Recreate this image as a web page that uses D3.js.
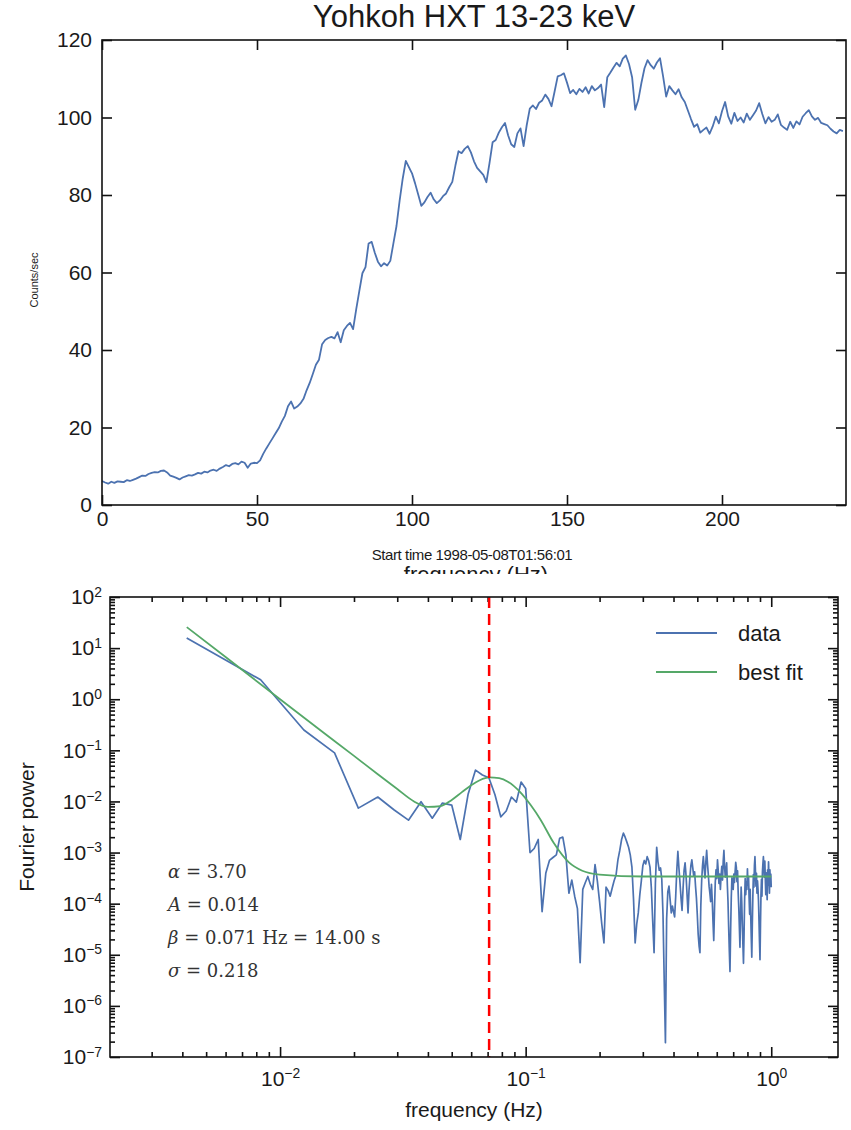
<!DOCTYPE html>
<html>
<head>
<meta charset="utf-8">
<script src="https://cdn.jsdelivr.net/npm/d3@7"></script>
<style>
  body { margin: 0; background: #fff; }
  svg text { fill: #1a1a1a; }
</style>
</head>
<body>
<script>
// ---- top panel: Yohkoh HXT light curve, one sample per second ----
const duration = 240
const counts = [
  6.2, 5.8, 5.5, 6.0, 5.7, 6.1, 6.0, 5.9, 6.4, 6.2,
  6.5, 6.8, 7.2, 7.6, 7.5, 8.0, 8.3, 8.5, 8.4, 8.8,
  8.9, 8.4, 7.6, 7.3, 7.0, 6.6, 7.1, 7.4, 7.7, 7.6,
  7.9, 8.3, 8.1, 8.6, 8.4, 8.9, 9.1, 8.8, 9.4, 9.8,
  10.3, 10.0, 10.6, 10.8, 10.5, 11.2, 10.9, 9.6, 10.7, 10.9,
  10.8, 11.5, 13.2, 14.6, 15.9, 17.2, 18.5, 19.8, 21.5, 23.0,
  25.5, 26.7, 24.9, 25.4, 26.2, 27.4, 29.6, 31.5, 33.8, 36.2,
  37.5, 41.5, 42.6, 43.1, 43.4, 43.0, 44.6, 42.0, 45.1, 46.2,
  47.0, 45.4, 50.5, 55.2, 59.8, 61.4, 67.5, 67.9, 65.1, 62.8,
  61.6, 62.4, 61.8, 63.0, 67.5, 72.0, 78.5, 84.2, 88.8, 87.2,
  85.6, 83.0, 80.1, 77.2, 78.1, 79.5, 80.6, 78.9, 77.9, 78.6,
  79.7, 80.4, 82.0, 83.4, 87.6, 91.3, 90.8, 91.9, 92.6, 91.0,
  88.7, 87.0, 86.1, 85.2, 83.3, 88.2, 93.6, 94.2, 96.1, 97.5,
  98.6, 95.4, 93.1, 92.4, 95.9, 97.2, 92.6, 98.0, 102.3, 103.1,
  102.2, 103.8, 104.4, 105.9, 104.8, 102.9, 106.7, 110.6, 110.9, 111.4,
  109.0, 106.3, 107.1, 106.0, 107.4, 106.6, 107.8, 106.2, 108.1, 107.0,
  107.6, 108.5, 102.7, 110.4, 111.6, 112.9, 114.1, 113.2, 115.2, 116.0,
  113.8, 110.4, 102.0, 104.5, 108.9, 112.7, 114.8, 113.5, 112.6, 114.2,
  115.3, 110.6, 105.4, 108.1, 107.0, 106.0, 107.3, 105.2, 104.0, 101.8,
  99.6, 97.6, 98.3, 96.1, 96.8, 97.4, 95.8, 97.7, 100.2, 98.5,
  101.6, 104.0, 100.3, 98.4, 101.2, 99.1, 100.0, 98.7, 101.0, 99.4,
  100.6, 101.8, 103.7, 100.9, 98.5, 100.1, 98.9, 99.4, 100.8, 98.1,
  97.4, 96.8, 98.9, 97.3, 99.0, 98.2, 100.2, 101.1, 101.9, 100.3,
  99.4, 99.9, 98.6, 98.3, 98.0, 97.1, 96.4, 95.9, 96.8, 96.5
]
const timeTicks = [0, 50, 100, 150, 200]
const countTicks = [0, 20, 40, 60, 80, 100, 120]

// ---- bottom panel: Fourier power at frequencies k / duration ----
const power = [
  15.8, 2.4, 0.25, 0.089, 0.0074, 0.0122, 0.0068, 0.0043, 0.0099, 0.0047,
  0.0093, 0.0085, 0.0018, 0.014, 0.041, 0.033, 0.029, 0.0135, 0.0050, 0.0065,
  0.0122, 0.0097, 0.024, 0.018, 0.0010, 0.0012, 0.0018, 7e-5, 4e-4, 7e-4,
  8e-4, 9e-4, 1.9e-3, 2.0e-3, 9e-4, 1.6e-4, 2.9e-4, 1.4e-4, 8e-5, 7e-6,
  1.9e-4, 2.6e-4, 3.4e-4, 2.4e-4, 1.9e-4, 5.8e-4, 2.8e-4, 1.1e-4, 4.0e-5, 1.7e-5,
  2.1e-4, 1.8e-4, 1.4e-4, 2.0e-4, 2.8e-4, 3.6e-4, 7.2e-4, 1.1e-3, 1.8e-3, 2.4e-3,
  2.0e-3, 1.6e-3, 1.27e-3, 9.0e-4, 5.2e-4, 1.2e-4, 1.7e-5, 4.0e-5, 6.6e-5, 1.5e-4,
  2.8e-4, 5.5e-4, 7.0e-4, 6.0e-4, 8.3e-4, 7.0e-4, 5.2e-4, 2.0e-4, 4.5e-5, 1.1e-5,
  2.5e-4, 1.27e-3, 6.5e-4, 4.5e-4, 5.0e-4, 3.0e-4, 6.0e-5, 3.0e-6, 1.9e-7, 5.0e-5,
  1.7e-4, 2.2e-4, 1.2e-4, 6.6e-5, 9.0e-5, 7.0e-5, 5.5e-5, 1.4e-4, 4.5e-4, 1.05e-3,
  5.0e-4, 2.6e-4, 1.3e-4, 7.4e-5, 2.0e-4, 4.5e-4, 6.3e-4, 3.5e-4, 1.5e-4, 6.6e-5,
  1.8e-4, 3.4e-4, 5.6e-4, 7.2e-4, 5.0e-4, 3.5e-4, 4.2e-4, 2.2e-4, 1.3e-4, 6.0e-5,
  2.5e-5, 1.5e-5, 1.1e-5, 9.0e-5, 2.8e-4, 5.5e-4, 8.3e-4, 4.8e-4, 3.2e-4, 6.5e-4,
  1.1e-3, 6.0e-4, 3.8e-4, 2.2e-4, 1.6e-4, 1.1e-4, 2.4e-4, 1.2e-4, 4.5e-5, 1.9e-5,
  8.0e-5, 2.6e-4, 4.6e-4, 3.1e-4, 7.2e-4, 4.4e-4, 2.5e-4, 3.8e-4, 1.9e-4, 3.6e-4,
  5.4e-4, 2.9e-4, 6.8e-4, 1.1e-3, 5.2e-4, 3.3e-4, 4.5e-4, 6.3e-4, 2.4e-4, 1.1e-4,
  3.5e-5, 1.2e-5, 4.7e-6, 3.0e-5, 1.3e-4, 3.2e-4, 2.0e-4, 1.9e-4, 3.8e-4, 2.6e-4,
  4.1e-4, 6.4e-4, 5.2e-4, 2.7e-4, 4.4e-4, 1.7e-4, 8.5e-5, 3.5e-5, 1.4e-5, 6.0e-5,
  2.1e-4, 1.1e-4, 4.0e-5, 1.6e-5, 6.8e-6, 2.5e-5, 1.2e-4, 3.1e-4, 1.5e-4, 2.7e-4,
  1.9e-4, 4.8e-4, 2.3e-4, 3.4e-4, 1.3e-4, 6.2e-5, 1.9e-4, 6.0e-5, 2.2e-5, 9.0e-6,
  4.0e-5, 1.4e-4, 3.7e-4, 2.1e-4, 5.6e-4, 8.3e-4, 4.3e-4, 2.2e-4, 3.9e-4, 1.6e-4,
  2.8e-4, 1.9e-4, 1.1e-4, 4.5e-5, 1.8e-5, 8.0e-6, 4.0e-5, 1.5e-4, 3.0e-4, 1.4e-4,
  4.2e-4, 6.1e-4, 8.3e-4, 5.0e-4, 3.3e-4, 6.8e-4, 3.1e-4, 1.5e-4, 4.0e-4, 2.8e-4,
  1.2e-4, 4.6e-4, 2.3e-4, 6.6e-4, 3.0e-4, 1.6e-4, 4.6e-4, 2.5e-4, 3.8e-4, 2.1e-4
]
const fitFreq = [0.00417, 0.006, 0.01, 0.015, 0.02, 0.025, 0.03, 0.035, 0.04, 0.045,
  0.05, 0.055, 0.06, 0.065, 0.071, 0.078, 0.085, 0.095, 0.105, 0.115,
  0.13, 0.15, 0.17, 0.2, 0.3, 0.5, 1.0]
const fitPower = [25.7, 6.7, 1.0, 0.224, 0.078, 0.034, 0.0175, 0.0101, 0.0078, 0.0081,
  0.0107, 0.0152, 0.0208, 0.026, 0.0295, 0.0285, 0.024, 0.0152, 0.0084, 0.0044,
  0.00155, 0.00064, 0.00044, 0.00037, 0.00034, 0.00034, 0.00034]
const peakFreq = 0.071
const freqDomain = [0.00203, 1.87]
const powerDomain = [1e-7, 1e2]
const legendLabels = ['data', 'best fit']
const fitLines = [
  [['α', true], [' = 3.70', false]],
  [['A', true], [' = 0.014', false]],
  [['β', true], [' = 0.071 Hz = 14.00 s', false]],
  [['σ', true], [' = 0.218', false]]
]

const blue = '#4c72b0'
const green = '#55a868'
const sans = "'Liberation Sans', Arial, sans-serif"
const serif = "'DejaVu Serif', 'Liberation Serif', serif"

const svg = d3.select('body').append('svg')
  .attr('width', 851)
  .attr('height', 1130)
  .style('font-family', sans)

// ---------- top panel ----------
const p1 = {left: 102, top: 40, right: 846, bottom: 505}
const w1 = p1.right - p1.left
const h1 = p1.bottom - p1.top

svg.append('text')
  .attr('x', 474).attr('y', 27)
  .attr('text-anchor', 'middle')
  .attr('font-size', 31)
  .text('Yohkoh HXT 13-23 keV')

const g1 = svg.append('g').attr('transform', `translate(${p1.left},${p1.top})`)

const xTime = d3.scaleLinear().domain([0, duration]).range([0, w1])
const yCount = d3.scaleLinear().domain([0, 120]).range([h1, 0])

function styleAxis(g, size) {
  g.select('.domain').remove()
  g.selectAll('.tick line').attr('stroke', '#111').attr('stroke-width', 1.6)
  g.attr('font-size', size).attr('font-family', null)
  g.selectAll('.tick text').attr('fill', '#1a1a1a')
}

g1.append('g').attr('transform', `translate(0,${h1})`)
  .call(d3.axisBottom(xTime).tickValues(timeTicks).tickSize(-10).tickPadding(6))
  .call(g => styleAxis(g, 21))
g1.append('g')
  .call(d3.axisTop(xTime).tickValues(timeTicks).tickSize(-10).tickFormat(''))
  .call(g => styleAxis(g, 21))
g1.append('g')
  .call(d3.axisLeft(yCount).tickValues(countTicks).tickSize(-10).tickPadding(10))
  .call(g => styleAxis(g, 21))
g1.append('g').attr('transform', `translate(${w1},0)`)
  .call(d3.axisRight(yCount).tickValues(countTicks).tickSize(-10).tickFormat(''))
  .call(g => styleAxis(g, 21))

g1.append('path')
  .datum(counts)
  .attr('fill', 'none')
  .attr('stroke', blue)
  .attr('stroke-width', 1.8)
  .attr('stroke-linejoin', 'round')
  .attr('d', d3.line().x((d, i) => xTime(i)).y(d => yCount(d)))

g1.append('rect')
  .attr('width', w1).attr('height', h1)
  .attr('fill', 'none').attr('stroke', '#111').attr('stroke-width', 1.6)

svg.append('text')
  .attr('transform', 'translate(38,280) rotate(-90)')
  .attr('text-anchor', 'middle')
  .attr('font-size', 11)
  .text('Counts/sec')

// leftover x label of the lower panel, mostly hidden under it
svg.append('clipPath').attr('id', 'ghost')
  .append('rect').attr('x', 0).attr('y', 0).attr('width', 851).attr('height', 574)
svg.append('text')
  .attr('clip-path', 'url(#ghost)')
  .attr('x', 476).attr('y', 582)
  .attr('text-anchor', 'middle')
  .attr('font-size', 22)
  .attr('fill', '#333')
  .text('frequency (Hz)')

svg.append('text')
  .attr('x', 472).attr('y', 560)
  .attr('text-anchor', 'middle')
  .attr('font-size', 15)
  .attr('letter-spacing', -0.4)
  .text('Start time 1998-05-08T01:56:01')

// ---------- bottom panel ----------
const p2 = {left: 110, top: 597, right: 838, bottom: 1057}
const w2 = p2.right - p2.left
const h2 = p2.bottom - p2.top

const g2 = svg.append('g').attr('transform', `translate(${p2.left},${p2.top})`)

const xFreq = d3.scaleLog().domain(freqDomain).range([0, w2])
const yPow = d3.scaleLog().domain(powerDomain).range([h2, 0])

const isMajor = v => Math.abs(Math.log10(v) - Math.round(Math.log10(v))) < 1e-6
const xMajor = xFreq.ticks().filter(isMajor)
const xMinor = xFreq.ticks().filter(v => !isMajor(v))
const yMajor = yPow.ticks().filter(isMajor)
const yMinor = yPow.ticks().filter(v => !isMajor(v))

function powerLabels(g) {
  g.selectAll('.tick text').each(function(d) {
    const t = d3.select(this).text(null)
    const e = Math.round(Math.log10(d))
    t.append('tspan').text('10')
    t.append('tspan').attr('dy', '-0.55em').attr('font-size', '0.66em')
      .text(e < 0 ? '\u2212' + (-e) : e)
  })
}

g2.append('g').attr('transform', `translate(0,${h2})`)
  .call(d3.axisBottom(xFreq).tickValues(xMajor).tickSize(-10).tickPadding(14))
  .call(g => styleAxis(g, 21)).call(powerLabels)
g2.append('g').attr('transform', `translate(0,${h2})`)
  .call(d3.axisBottom(xFreq).tickValues(xMinor).tickSize(-5).tickFormat(''))
  .call(g => styleAxis(g, 21))
g2.append('g')
  .call(d3.axisTop(xFreq).tickValues(xMajor).tickSize(-10).tickFormat(''))
  .call(g => styleAxis(g, 21))
g2.append('g')
  .call(d3.axisTop(xFreq).tickValues(xMinor).tickSize(-5).tickFormat(''))
  .call(g => styleAxis(g, 21))
g2.append('g')
  .call(d3.axisLeft(yPow).tickValues(yMajor).tickSize(-10).tickPadding(8))
  .call(g => styleAxis(g, 21)).call(powerLabels)
g2.append('g')
  .call(d3.axisLeft(yPow).tickValues(yMinor).tickSize(-5).tickFormat(''))
  .call(g => styleAxis(g, 21))
g2.append('g').attr('transform', `translate(${w2},0)`)
  .call(d3.axisRight(yPow).tickValues(yMajor).tickSize(-10).tickFormat(''))
  .call(g => styleAxis(g, 21))
g2.append('g').attr('transform', `translate(${w2},0)`)
  .call(d3.axisRight(yPow).tickValues(yMinor).tickSize(-5).tickFormat(''))
  .call(g => styleAxis(g, 21))

g2.append('clipPath').attr('id', 'plot2')
  .append('rect').attr('width', w2).attr('height', h2)

const plot2 = g2.append('g').attr('clip-path', 'url(#plot2)')

plot2.append('path')
  .datum(power)
  .attr('fill', 'none')
  .attr('stroke', blue)
  .attr('stroke-width', 1.7)
  .attr('stroke-linejoin', 'round')
  .attr('d', d3.line().x((d, i) => xFreq((i + 1) / duration)).y(d => yPow(d)))

plot2.append('path')
  .datum(fitFreq.map((f, i) => [f, fitPower[i]]))
  .attr('fill', 'none')
  .attr('stroke', green)
  .attr('stroke-width', 1.8)
  .attr('d', d3.line().x(d => xFreq(d[0])).y(d => yPow(d[1])).curve(d3.curveMonotoneX))

plot2.append('line')
  .attr('x1', xFreq(peakFreq)).attr('x2', xFreq(peakFreq))
  .attr('y1', 0).attr('y2', h2)
  .attr('stroke', '#ff0000')
  .attr('stroke-width', 2.5)
  .attr('stroke-dasharray', '11,6')

g2.append('rect')
  .attr('width', w2).attr('height', h2)
  .attr('fill', 'none').attr('stroke', '#111').attr('stroke-width', 1.6)

// legend
const legend = g2.append('g').attr('transform', `translate(${w2 - 182},36)`)
legendLabels.forEach((label, i) => {
  legend.append('line')
    .attr('x1', 0).attr('x2', 61)
    .attr('y1', i * 39).attr('y2', i * 39)
    .attr('stroke', i === 0 ? blue : green)
    .attr('stroke-width', 1.8)
  legend.append('text')
    .attr('x', 82).attr('y', i * 39 + 8)
    .attr('font-size', 22)
    .text(label)
})

// fit parameters
const notes = g2.append('g').attr('transform', 'translate(58,281)')
fitLines.forEach((parts, i) => {
  const t = notes.append('text')
    .attr('y', i * 33)
    .style('font-family', serif)
    .attr('font-size', 18)
    .style('fill', '#333')
  parts.forEach(([s, it]) => {
    t.append('tspan').attr('font-style', it ? 'italic' : 'normal').text(s)
  })
})

svg.append('text')
  .attr('transform', `translate(34,${(p2.top + p2.bottom) / 2}) rotate(-90)`)
  .attr('text-anchor', 'middle')
  .attr('font-size', 21)
  .text('Fourier power')

svg.append('text')
  .attr('x', (p2.left + p2.right) / 2).attr('y', 1117)
  .attr('text-anchor', 'middle')
  .attr('font-size', 21)
  .text('frequency (Hz)')
</script>
</body>
</html>
